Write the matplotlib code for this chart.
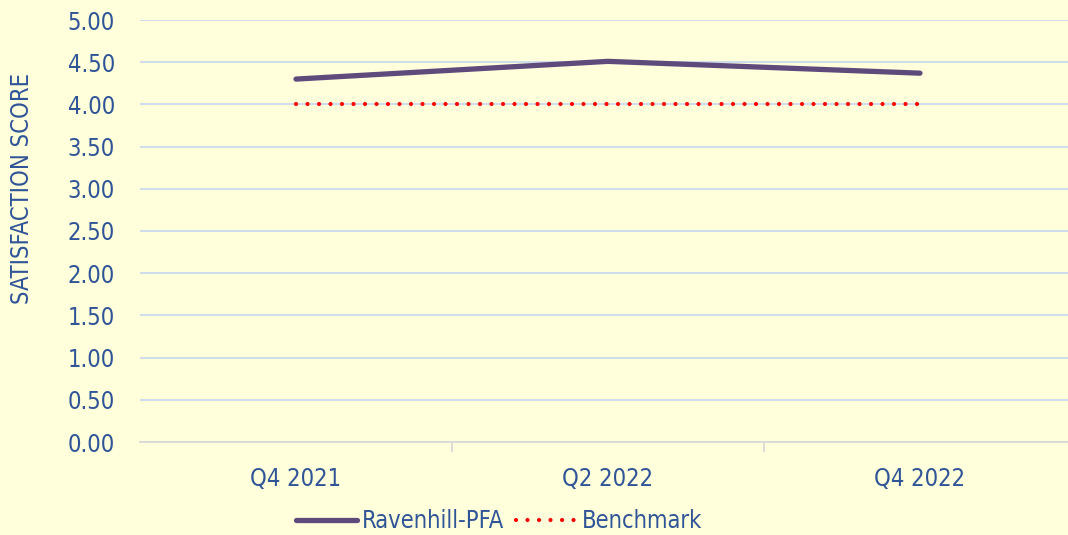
import matplotlib.pyplot as plt
from matplotlib.ticker import FormatStrFormatter

periods = ["Q4 2021", "Q2 2022", "Q4 2022"]
ravenhill = [4.30, 4.51, 4.37]
benchmark = [4.00, 4.00, 4.00]
y_ticks = [0.0, 0.5, 1.0, 1.5, 2.0, 2.5, 3.0, 3.5, 4.0, 4.5, 5.0]

bg = "#FFFFDC"
text_col = "#2F5597"
grid_col = "#C9D9EE"

plt.rcParams['font.family'] = ['DejaVu Sans']
plt.rcParams['font.stretch'] = 'condensed'
fs = 17

fig = plt.figure(figsize=(10.68, 5.35), dpi=100, facecolor=bg)
ax = fig.add_axes([140 / 1068, (535 - 442) / 535, (1076 - 140) / 1068, (442 - 20) / 535])
ax.set_facecolor(bg)

x = list(range(len(periods)))
ax.plot(x, ravenhill, color="#5E4B7C", lw=3.8, solid_capstyle="round",
        solid_joinstyle="round", label="Ravenhill-PFA", zorder=3)
ax.plot(x, benchmark, color="#FF0000", lw=3.0, linestyle=(0, (0.01, 2.75)),
        dash_capstyle="round", label="Benchmark", zorder=3)

ax.set_xlim(-0.5, len(periods) - 0.5)
ax.set_ylim(0, 5)
ax.set_yticks(y_ticks)
ax.yaxis.set_major_formatter(FormatStrFormatter("%.2f"))
ax.set_xticks(x)
ax.set_xticklabels(periods)
ax.set_xticks([0.5, 1.5], minor=True)

ax.grid(axis="y", color=grid_col, lw=1.3)
ax.set_axisbelow(True)
for s in ["top", "right", "left"]:
    ax.spines[s].set_visible(False)
ax.spines["bottom"].set_color("#D9D9D9")
ax.spines["bottom"].set_linewidth(1.3)

ax.tick_params(axis="y", length=0, pad=18, labelsize=fs, labelcolor=text_col)
ax.tick_params(axis="x", which="major", length=0, pad=18, labelsize=fs, labelcolor=text_col)
ax.tick_params(axis="x", which="minor", length=7, width=1.3, color="#D9D9D9")

fig.text(22 / 1068, 1 - 188 / 535, "SATISFACTION SCORE", rotation=90, ha="center",
         va="center", fontsize=fs, color=text_col)

leg = fig.legend(loc="center", bbox_to_anchor=(499 / 1068, 1 - 521 / 535), ncol=2,
                 frameon=False, fontsize=fs, labelcolor=text_col, handlelength=2.6,
                 handletextpad=0.2, columnspacing=0.5)

fig.savefig("out.png", dpi=100, facecolor=bg)
